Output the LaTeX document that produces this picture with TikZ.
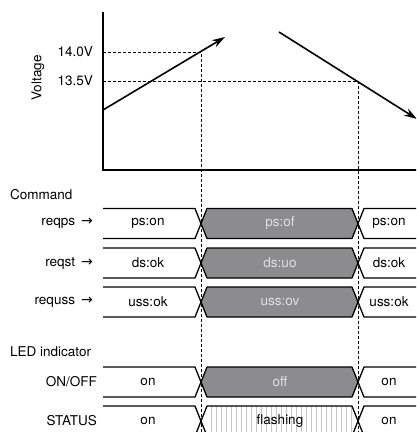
\documentclass[tikz,border=0pt]{standalone}
\usepackage{fontspec}
\setmainfont{TeX Gyre Heros}
\newfontfamily\flechas{DejaVu Sans}
\usetikzlibrary{arrows.meta}
\definecolor{gris}{RGB}{140,140,142}
\definecolor{claro}{RGB}{225,225,225}
\newcommand{\flder}{{\flechas\fontsize{14}{16}\selectfont →}}
\tikzset{
  eje/.style={line width=2.2pt},
  flecha/.style={line width=1.6pt, -{Stealth[length=13pt,width=8pt]}},
  guia/.style={line width=0.7pt, dash pattern=on 3pt off 2pt},
  senal/.style={draw=black, line width=1.3pt, line join=round},
  etiq/.style={anchor=east, inner sep=0pt}
}
\begin{document}
\begin{tikzpicture}[x=1pt, y=-1pt, font=\fontsize{13.5}{16}\selectfont]
\useasboundingbox (0,0) rectangle (416,432);
\clip (0,0) rectangle (416,432);

% Lineas guia
\draw [guia] (103,52) -- (201,52) -- (201,440);
\draw [guia] (103,81) -- (358,81) -- (358,440);

% Ejes
\draw [eje] (103,12) -- (103,170) -- (420,170);
\node [etiq] (v140) at (93,52) {14.0V};
\node [etiq] (v135) at (93,81) {13.5V};
\node [rotate=90] (volt) at (38,78) {Voltage};

% Tension (sube y baja)
\coordinate (s0) at (103,110);
\coordinate (s1) at (225,37);
\coordinate (b0) at (279,32);
\coordinate (b1) at (417,119);
\draw [flecha] (s0) -- (s1);
\draw [flecha] (b0) -- (b1);

% Titulos
\node [anchor=west, inner sep=0pt] (cmd) at (10,195) {Command};
\node [anchor=west, inner sep=0pt] (led) at (10,352) {LED indicator};

% Filas de senales
\foreach \m/\n/\a/\b/\c in {223.5/1/ps:on/ps:of/ps:on,
    263/2/ds:ok/ds:uo/ds:ok,
    302/3/uss:ok/uss:ov/uss:ok,
    382/4/on/off/on} {
  \fill [white] (103,\m-15) -- (195,\m-15) -- (201,\m) -- (195,\m+15) -- (103,\m+15) -- cycle;
  \draw [senal] (103,\m-15) -- (195,\m-15) -- (201,\m) -- (195,\m+15) -- (103,\m+15);
  \draw [senal, fill=gris] (201,\m) -- (207,\m-15) -- (352,\m-15) -- (358,\m) -- (352,\m+15) -- (207,\m+15) -- cycle;
  \fill [white] (430,\m-15) -- (364,\m-15) -- (358,\m) -- (364,\m+15) -- (430,\m+15) -- cycle;
  \draw [senal] (430,\m-15) -- (364,\m-15) -- (358,\m) -- (364,\m+15) -- (430,\m+15);
  \node (iz\n) at (148,\m) {\a};
  \node [text=claro] (ce\n) at (280,\m) {\b};
  \node (de\n) at (389,\m) {\c};
}
\node [etiq] (r1) at (93,223.5) {reqps\hspace{6pt}\flder};
\node [etiq] (r2) at (93,263) {reqst\hspace{6pt}\flder};
\node [etiq] (r3) at (93,302) {requss\hspace{6pt}\flder};
\node [etiq] (r4) at (97,382) {ON/OFF};

% STATUS (parpadeo)
\fill [white] (103,406) -- (195,406) -- (201,421) -- (195,436) -- (103,436) -- cycle;
\draw [senal] (103,406) -- (195,406) -- (201,421) -- (195,436) -- (103,436);
\begin{scope}
    \clip (201,421) -- (207,406) -- (352,406) -- (358,421) -- (352,436) -- (207,436) -- cycle;
    \fill [white] (200,400) rectangle (360,440);
    \foreach \x in {211,216,...,351}
        \draw [black!22, line width=0.8pt] (\x,400) -- (\x,440);
\end{scope}
\draw [senal] (201,421) -- (207,406) -- (352,406) -- (358,421) -- (352,436) -- (207,436) -- cycle;
\fill [white] (430,406) -- (364,406) -- (358,421) -- (364,436) -- (430,436) -- cycle;
\draw [senal] (430,406) -- (364,406) -- (358,421) -- (364,436) -- (430,436);
\node (iz5) at (148,421) {on};
\node (ce5) at (280,421) {flashing};
\node (de5) at (389,421) {on};
\node [etiq] (r5) at (97,421) {STATUS};
\end{tikzpicture}
\end{document}
